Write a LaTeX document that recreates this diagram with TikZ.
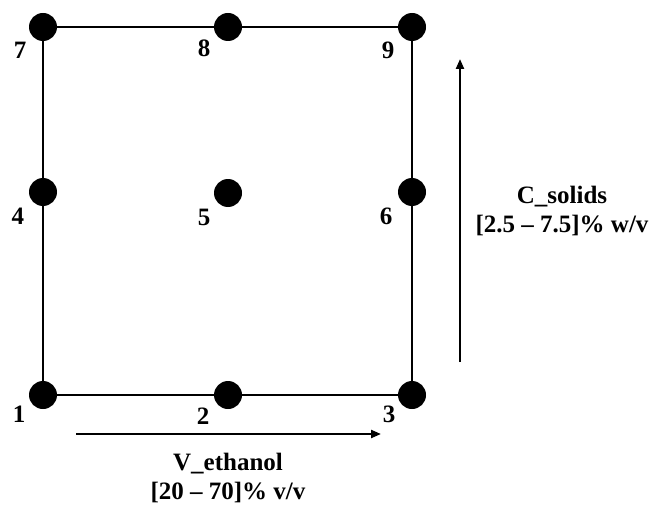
\documentclass[tikz,border=0pt]{standalone}
\usepackage{fontspec}
\setmainfont{Liberation Serif}
\usetikzlibrary{arrows.meta}
\begin{document}
\begin{tikzpicture}[x=1pt,y=-1pt,
  dot/.style={circle,fill=black,inner sep=0pt,minimum size=28pt},
  num/.style={font=\fontsize{25}{25}\selectfont\bfseries,inner sep=0pt},
  lab/.style={font=\fontsize{25}{29}\selectfont\bfseries,align=center,inner sep=0pt},
  edge/.style={line width=2.8pt},
  axis/.style={line width=2.2pt,-{Triangle[length=10pt,width=8pt]}}]
\useasboundingbox (0,0) rectangle (652,505);
\node[dot] (d1) at (43,395) {};
\node[dot] (d2) at (228,395) {};
\node[dot] (d3) at (412,395) {};
\node[dot] (d4) at (43,192) {};
\node[dot] (d5) at (228,193) {};
\node[dot] (d6) at (412,192) {};
\node[dot] (d7) at (43,27) {};
\node[dot] (d8) at (228,27) {};
\node[dot] (d9) at (412,27) {};
\draw[edge] (d1) -- (d2) -- (d3) -- (d6) -- (d9) -- (d8) -- (d7) -- (d4) -- (d1);
\node[num] (n7) at (20,50) {7};
\node[num] (n8) at (204,48) {8};
\node[num] (n9) at (388,50) {9};
\node[num] (n4) at (18,216) {4};
\node[num] (n5) at (204,217) {5};
\node[num] (n6) at (386,216) {6};
\node[num] (n1) at (19,414) {1};
\node[num] (n2) at (203,416) {2};
\node[num] (n3) at (389,414) {3};
\coordinate (h0) at (76,434);
\coordinate (h1) at (381,434);
\coordinate (v0) at (460,362);
\coordinate (v1) at (460,59);
\draw[axis] (h0) -- (h1);
\draw[axis] (v0) -- (v1);
\node[lab] (vl) at (228,478) {V\_ethanol\\{[20 -- 70]\% v/v}};
\node[lab] (cl) at (562,211) {C\_solids\\{[2.5 -- 7.5]\% w/v}};
\end{tikzpicture}
\end{document}
